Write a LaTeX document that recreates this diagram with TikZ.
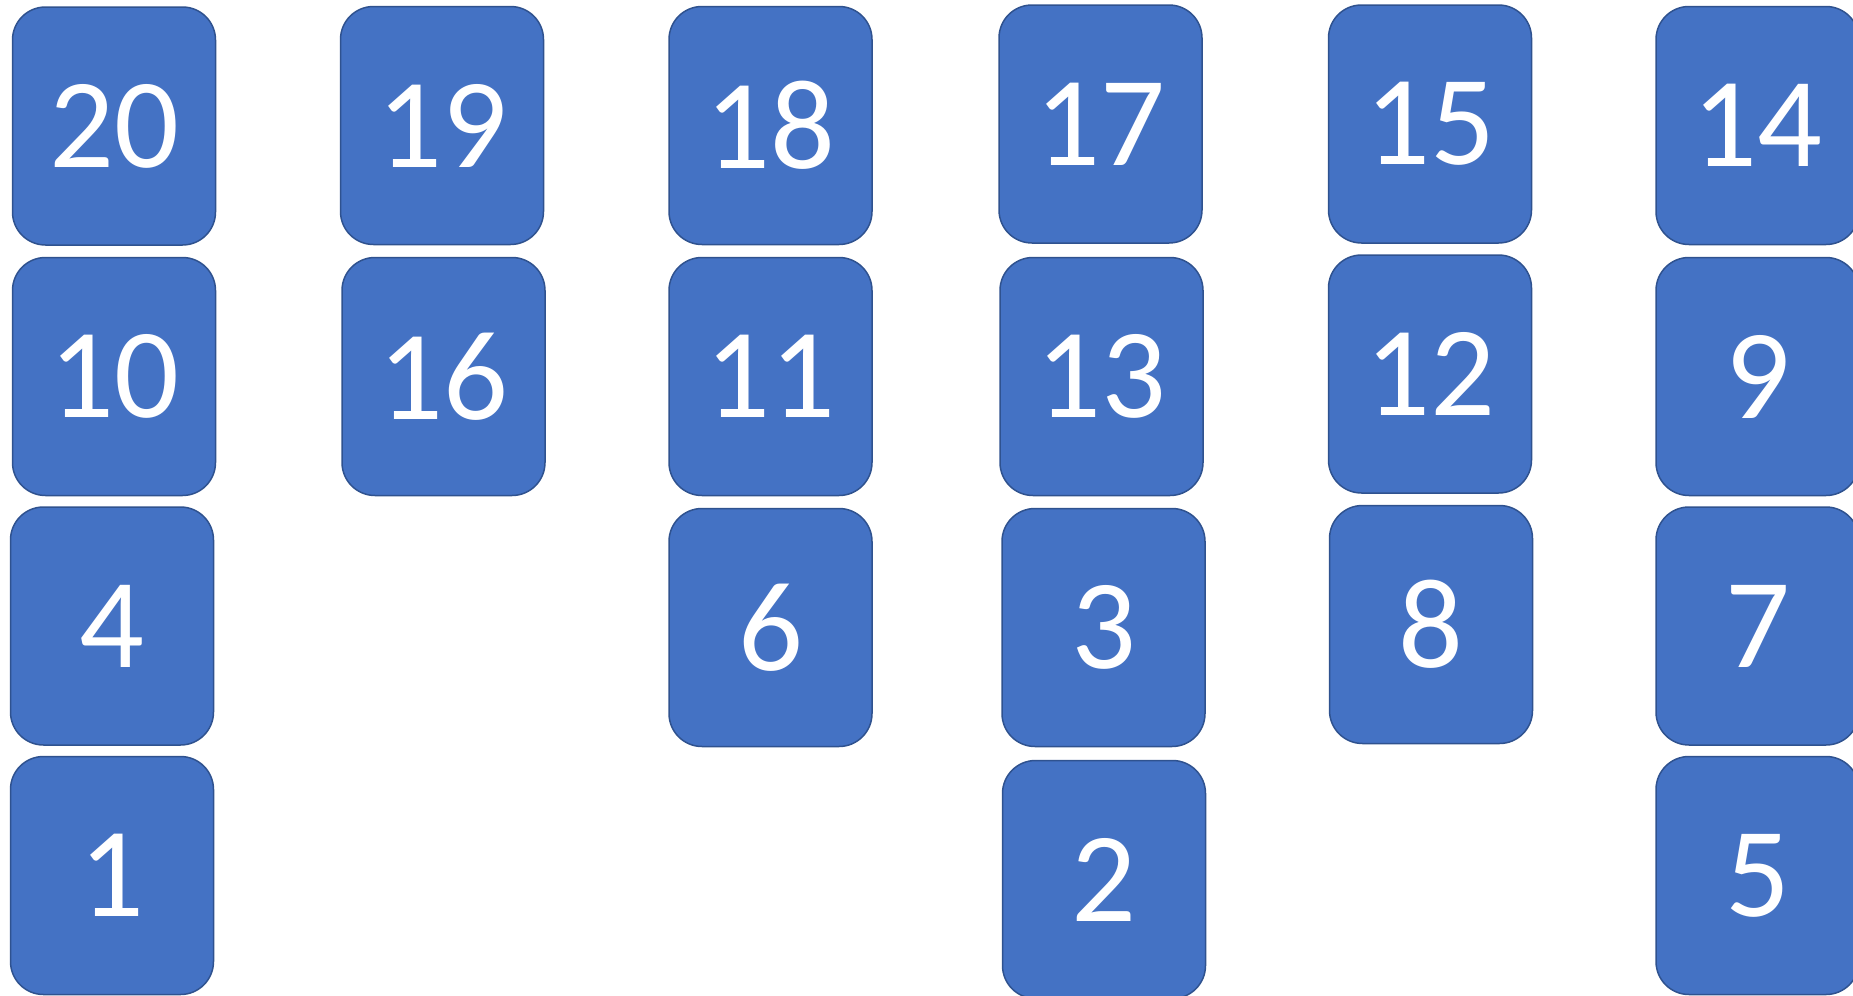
\documentclass[tikz,border=0pt]{standalone}
\usepackage{fontspec}
\setmainfont{Carlito}
\definecolor{boxblue}{HTML}{4472C4}
\definecolor{boxedge}{HTML}{2F528F}
\tikzset{
  numbox/.style={draw=boxedge, line width=1.5pt, fill=boxblue, rounded corners=33pt,
    minimum width=203pt, minimum height=238pt, inner sep=0pt,
    text=white, font=\fontsize{128}{130}\selectfont}
}
\begin{document}
\begin{tikzpicture}[x=1pt, y=-1pt]
    \useasboundingbox (0,0) rectangle (1853,996);
    \clip (0,0) rectangle (1853,996);

    % Top row
    \node[numbox] (n20) at (114, 126) {20};
    \node[numbox] (n19) at (442, 125.5) {19};
    \node[numbox] (n18) at (770.5, 125.5) {18};
    \node[numbox] (n17) at (1100.5, 124) {17};
    \node[numbox] (n15) at (1430, 124) {15};
    \node[numbox] (n14) at (1757.5, 125.5) {14};

    % Second row
    \node[numbox] (n10) at (114, 376.5) {10};
    \node[numbox] (n16) at (443.5, 376.5) {16};
    \node[numbox] (n11) at (770.5, 376.5) {11};
    \node[numbox] (n13) at (1101.5, 376.5) {13};
    \node[numbox] (n12) at (1430, 374) {12};
    \node[numbox] (n9) at (1757.5, 376.5) {9};

    % Third row
    \node[numbox] (n4) at (112, 626) {4};
    \node[numbox] (n6) at (770.5, 627.5) {6};
    \node[numbox] (n3) at (1103.5, 627.5) {3};
    \node[numbox] (n8) at (1431, 624.5) {8};
    \node[numbox] (n7) at (1757.5, 626) {7};

    % Bottom row
    \node[numbox] (n1) at (112, 875.5) {1};
    \node[numbox] (n2) at (1104, 879.5) {2};
    \node[numbox] (n5) at (1757.5, 875.5) {5};

\end{tikzpicture}
\end{document}
